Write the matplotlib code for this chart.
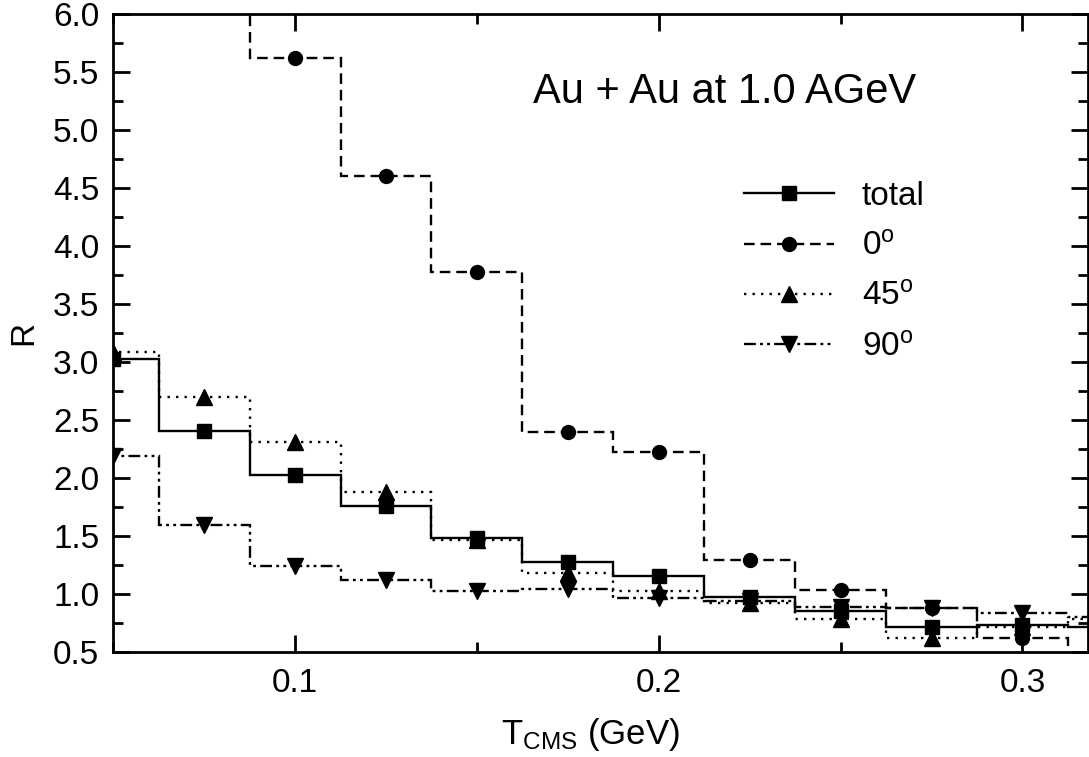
import numpy as np
import matplotlib
matplotlib.use("Agg")
import matplotlib.pyplot as plt
from matplotlib.ticker import MultipleLocator

plt.rcParams["font.family"] = ["Liberation Sans", "DejaVu Sans"]
plt.rcParams["mathtext.fontset"] = "custom"
plt.rcParams["mathtext.rm"] = "Liberation Sans"
plt.rcParams["mathtext.it"] = "Liberation Sans"

# bin centres of T_CMS (GeV), bins are 0.025 wide
t_cms = [0.05, 0.075, 0.1, 0.125, 0.15, 0.175, 0.2, 0.225, 0.25, 0.275, 0.3, 0.325]

r_total = [3.02, 2.40, 2.02, 1.76, 1.48, 1.27, 1.15, 0.97, 0.85, 0.71, 0.73, 0.71]
r_0deg = [8.5, 7.0, 5.62, 4.60, 3.77, 2.39, 2.22, 1.29, 1.03, 0.88, 0.62, 0.40]
r_45deg = [3.08, 2.70, 2.31, 1.88, 1.46, 1.18, 1.02, 0.92, 0.78, 0.62, 0.71, 0.78]
r_90deg = [2.19, 1.59, 1.24, 1.12, 1.02, 1.04, 0.96, 0.94, 0.89, 0.88, 0.83, 0.80]

BIN_W = 0.025
centres = np.array(t_cms)
edges = np.append(centres - BIN_W / 2, centres[-1] + BIN_W / 2)

fig = plt.figure(figsize=(10.89, 7.57), dpi=100)
ax = fig.add_axes([0.104, 0.139, 0.895, 0.843])

series = [
    (r_total, "s", "-", 10, "total"),
    (r_0deg, "o", (0, (4.5, 2.5)), 10, r"0$^{\mathrm{o}}$"),
    (r_45deg, "^", (0, (1, 2.6)), 11, r"45$^{\mathrm{o}}$"),
    (r_90deg, "v", (0, (5, 1.8, 1.2, 1.8, 1.2, 1.8)), 11, r"90$^{\mathrm{o}}$"),
]

handles = []
for vals, mk, ls, ms, lab in series:
    ax.stairs(vals, edges, color="black", lw=1.7, linestyle=ls, baseline=None)
    ax.plot(centres, vals, linestyle="none", marker=mk, ms=ms, color="black")
    h, = ax.plot([], [], color="black", lw=1.7, linestyle=ls, marker=mk, ms=ms,
                 label=lab)
    handles.append(h)

ax.set_xlim(0.05, 0.318)
ax.set_ylim(0.5, 6.0)

ax.xaxis.set_major_locator(MultipleLocator(0.1))
ax.xaxis.set_minor_locator(MultipleLocator(0.05))
ax.yaxis.set_major_locator(MultipleLocator(0.5))
ax.yaxis.set_minor_locator(MultipleLocator(0.25))
ax.xaxis.set_major_formatter(plt.FormatStrFormatter("%.1f"))
ax.yaxis.set_major_formatter(plt.FormatStrFormatter("%.1f"))

ax.tick_params(which="both", direction="in", top=True, right=True, width=2)
ax.tick_params(axis="y", labelsize=24, pad=10)
ax.tick_params(axis="x", labelsize=24, pad=12)
ax.tick_params(which="major", length=12)
ax.tick_params(which="minor", length=7)
for sp in ax.spines.values():
    sp.set_linewidth(2)

ax.set_xlabel(r"T$_{\mathrm{CMS}}$ (GeV)", fontsize=25)
ax.xaxis.set_label_coords(0.49, -0.10)
ax.set_ylabel("R", fontsize=24, labelpad=10)

ax.text(0.431, 0.86, "Au + Au at 1.0 AGeV", transform=ax.transAxes,
        fontsize=30, ha="left", va="baseline")

ax.legend(handles=handles, loc="upper left", bbox_to_anchor=(0.64, 0.748),
          frameon=False, fontsize=24, handlelength=2.7, labelspacing=0.58,
          handletextpad=0.84, numpoints=1, borderaxespad=0, borderpad=0.2)

fig.savefig("out.png", dpi=100)
